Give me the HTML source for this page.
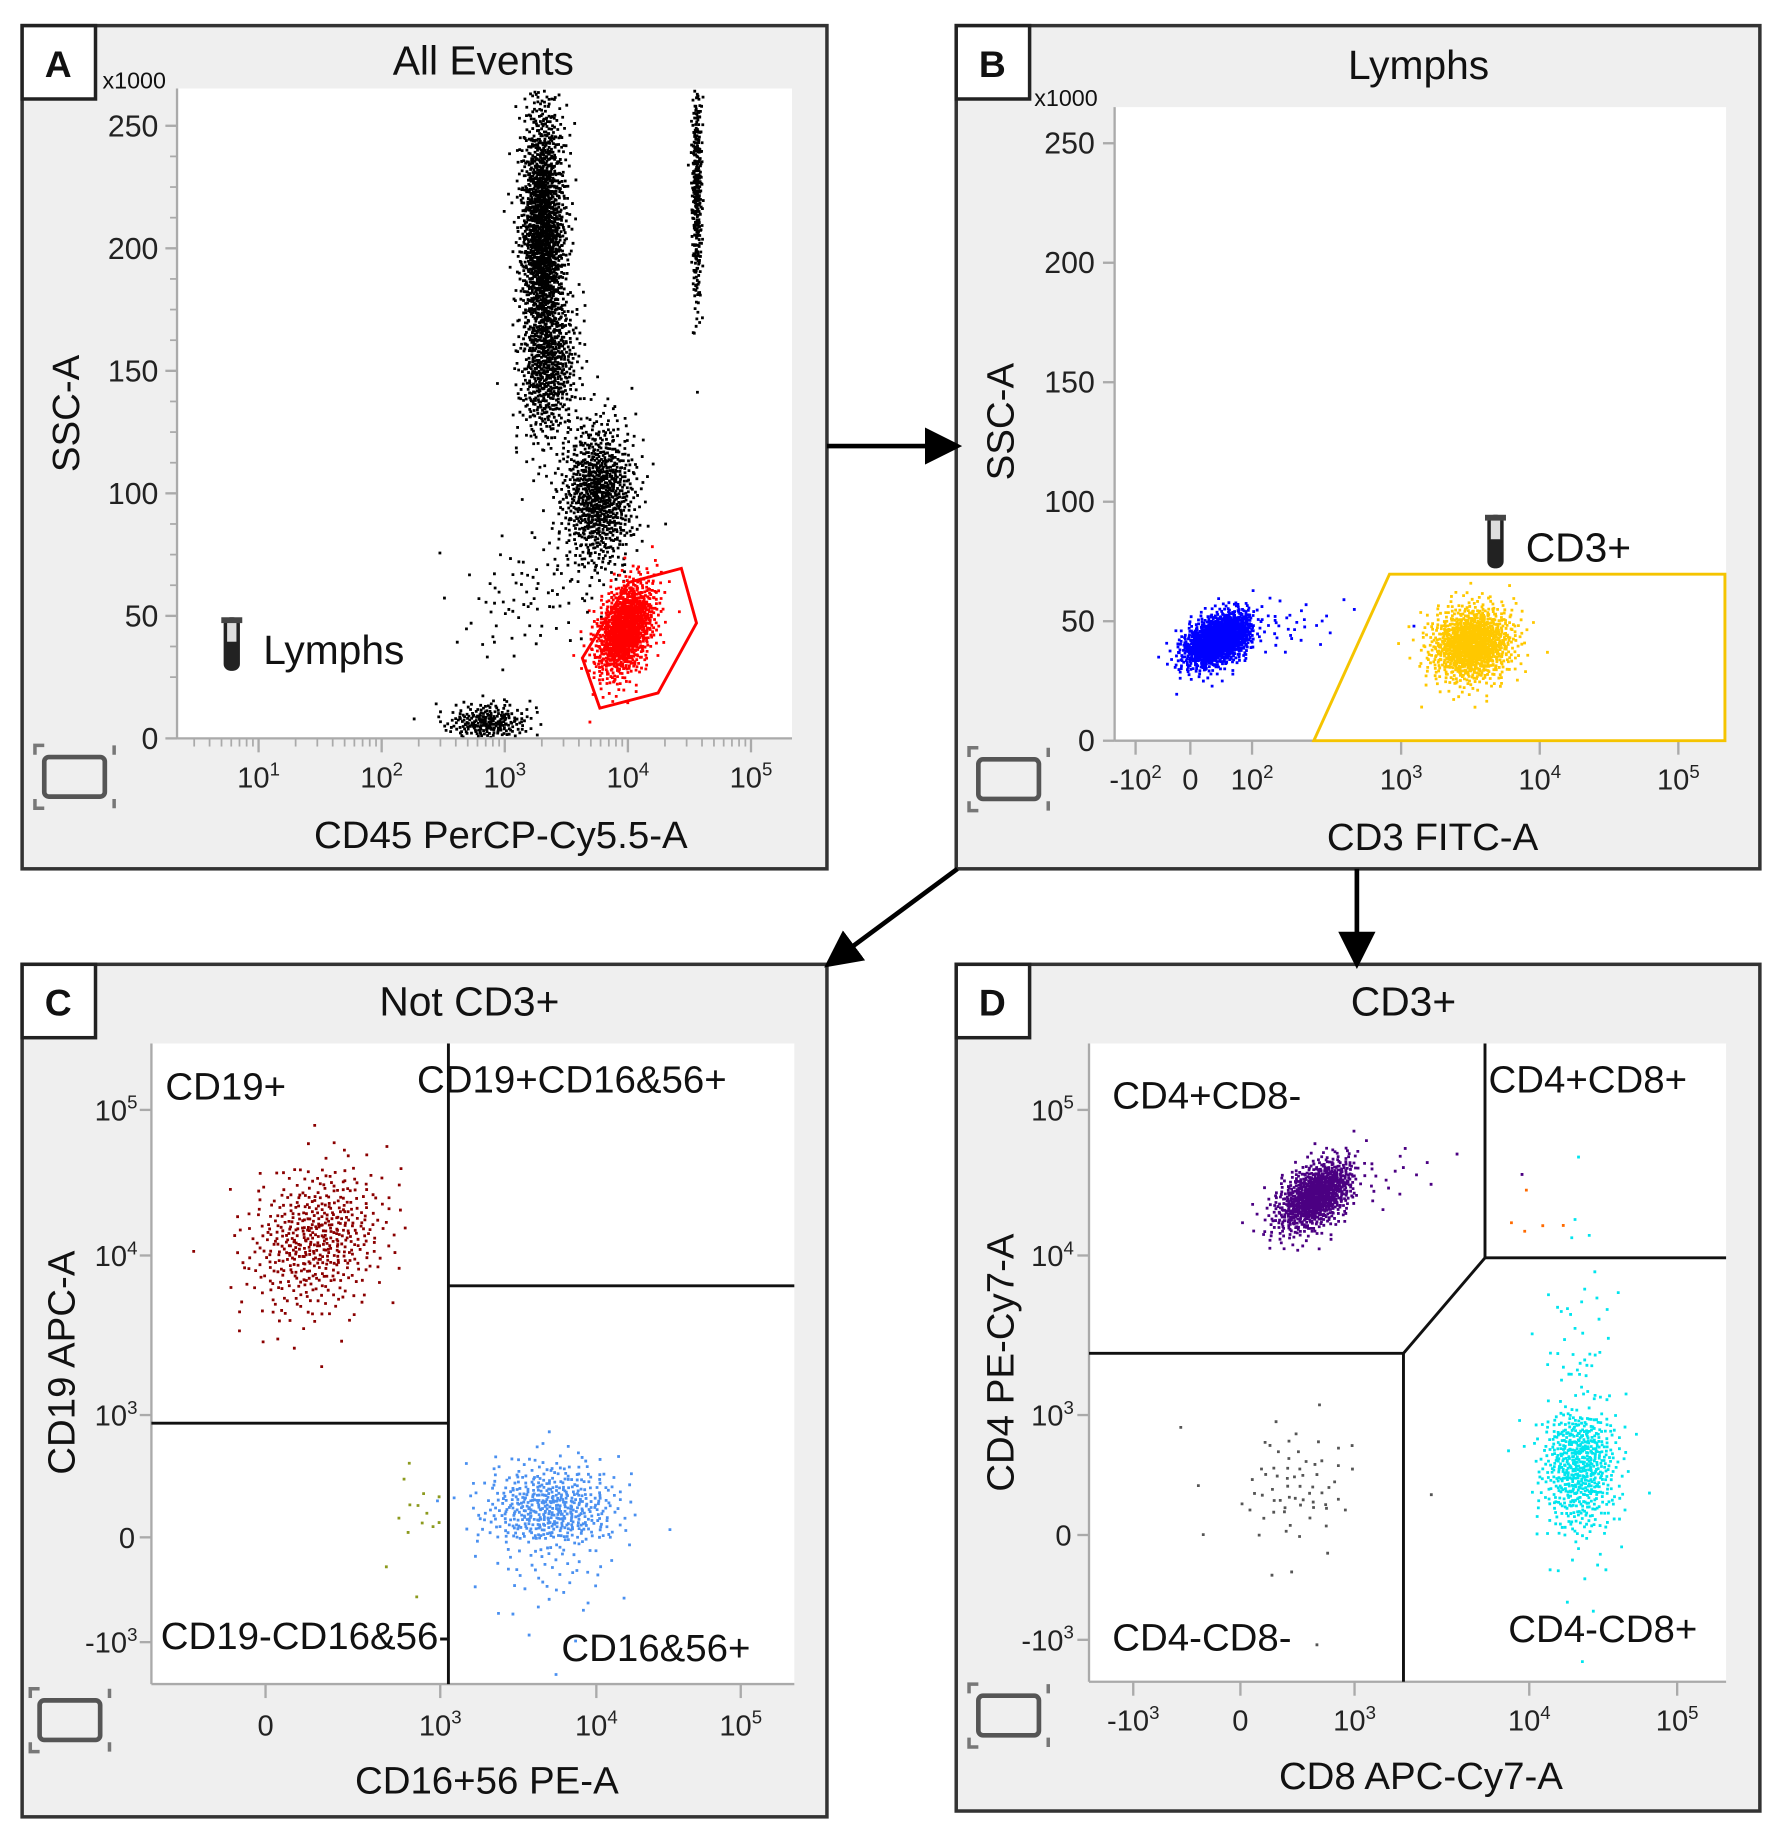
<!DOCTYPE html>
<html><head><meta charset="utf-8"><style>
html,body{margin:0;padding:0;background:#fff;}
svg{display:block;font-family:"Liberation Sans",sans-serif;}
</style></head><body>
<svg id="fig" width="1782" height="1825" viewBox="0 0 1530 1567" preserveAspectRatio="none" xmlns="http://www.w3.org/2000/svg">
<defs><marker id="ah" markerWidth="8" markerHeight="8" refX="6" refY="4" orient="auto"><path d="M0,0 L8,4 L0,8 z" fill="#000"/></marker></defs>
<g><rect x="19" y="22" width="691" height="724" fill="#efefef" stroke="#333" stroke-width="3"/><rect x="152" y="76" width="528" height="558" fill="#fff"/></g>
<g><rect x="821" y="22" width="690" height="724" fill="#efefef" stroke="#333" stroke-width="3"/><rect x="957" y="92" width="525" height="544" fill="#fff"/></g>
<g><rect x="19" y="828" width="691" height="732" fill="#efefef" stroke="#333" stroke-width="3"/><rect x="130" y="896" width="552" height="550" fill="#fff"/></g>
<g><rect x="821" y="828" width="690" height="727" fill="#efefef" stroke="#333" stroke-width="3"/><rect x="935" y="896" width="547" height="548" fill="#fff"/></g>
<g id="marks"></g>
<g id="overlay"></g>
</svg>
<script>
// ===== Panel A data (x: CD45 log value, y: SSC in thousands) =====
const aTicksX=[1,2,3,4,5];
const aTicksY=[0,50,100,150,200,250];
const aClX=[3.3,3.35,3.75,3.97,2.85,4.55,3.2];
const aClY=[205,150,100,45,7,225,60];
const aSdX=[0.09,0.12,0.15,0.12,0.17,0.02,0.3];
const aSdY=[28,14,15,10,4,25,15];
const aRho=[0,0.2,0,0.4,0,0,0.3];
const aN=[1800,500,900,1100,250,350,90];
const aCol=["#000","#000","#000","#ff0000","#000","#000","#000"];
// ===== Panel B data (x: decade units, y: SSC thousands) =====
const bTicksXv=[-2,0,2,3,4,5];
const bTicksXp=[975,1022,1075,1203,1322,1441];
const bClX=[0.9,3.5];
const bClY=[43,41];
const bSdX=[0.6,0.15];
const bSdY=[6,8];
const bRho=[0.45,0.1];
const bN=[1300,1100];
const bCol=["#0000ff","#ffc800"];
// ===== Panel C data (x,y: decade units, 0 = zero, -1 = -10^3) =====
const cTicksXv=[0,3,4,5]; const cTicksXp=[228,378,512,636];
const cTicksYv=[-1,0,3,4,5]; const cTicksYp=[1410,1320,1215,1078,953];
const cClX=[0.85,3.7,2.6];
const cClY=[4.12,0.7,0.6];
const cSdX=[0.6,0.22,0.25];
const cSdY=[0.25,0.6,0.6];
const cRho=[0.2,0,0];
const cN=[500,550,14];
const cCol=["#8b0000","#4a90f0","#8c9a1e"];
// ===== Panel D data =====
const dTicksXv=[-1,0,3,4,5]; const dTicksXp=[973,1065,1163,1313,1440];
const dTicksYv=[-1,0,3,4,5]; const dTicksYp=[1408,1318,1215,1078,953];
const dClX=[1.95,4.33,1.4,4.05];
const dClY=[4.42,1.8,1.2,4.25];
const dSdX=[0.55,0.13,0.8,0.12];
const dSdY=[0.13,0.9,0.8,0.1];
const dRho=[0.5,0,0,0];
const dN=[900,650,70,5];
const dCol=["#4b0082","#00e5ee","#555","#ff6a00"];

const NS="http://www.w3.org/2000/svg";
const marks=document.getElementById('marks');
const ov=document.getElementById('overlay');
function el(tag,attrs,parent){const e=document.createElementNS(NS,tag);for(const k in attrs)e.setAttribute(k,attrs[k]);(parent||ov).appendChild(e);return e;}
function interp(v,vs,ps){if(v<=vs[0])return ps[0]+(v-vs[0])*(ps[1]-ps[0])/(vs[1]-vs[0]);for(let i=1;i<vs.length;i++){if(v<=vs[i])return ps[i-1]+(v-vs[i-1])*(ps[i]-ps[i-1])/(vs[i]-vs[i-1]);}const n=vs.length;return ps[n-1]+(v-vs[n-1])*(ps[n-1]-ps[n-2])/(vs[n-1]-vs[n-2]);}
function halton(i,b){let f=1,r=0;while(i>0){f/=b;r+=f*(i%b);i=Math.floor(i/b);}return r;}
const axA={x:v=>222+(v-1)*105.7,y:v=>634-v*2.104};
const axB={x:v=>interp(v,bTicksXv,bTicksXp),y:v=>636-v*2.052};
const axC={x:v=>interp(v,cTicksXv,cTicksXp),y:v=>interp(v,cTicksYv,cTicksYp)};
const axD={x:v=>interp(v,dTicksXv,dTicksXp),y:v=>interp(v,dTicksYv,dTicksYp)};
function clusters(ax,X,Y,SX,SY,R,N,C,box,name){
  const g=el('g',{},marks);
  
  
  for(let c=0;c<X.length;c++){
    let d='';
    for(let i=1;i<=N[c];i++){
      const u1=Math.max(1e-4,halton(i+c*7,2)),u2=halton(i+c*7,3);
      const r=Math.sqrt(-2*Math.log(u1));
      const z1=r*Math.cos(2*Math.PI*u2),z2=r*Math.sin(2*Math.PI*u2);
      const vx=X[c]+SX[c]*z1, vy=Y[c]+SY[c]*(R[c]*z1+Math.sqrt(1-R[c]*R[c])*z2);
      const px=ax.x(vx),py=ax.y(vy);
      if(px<box[0]||px>box[2]||py<box[1]||py>box[3])continue;
      d+='M'+px.toFixed(1)+' '+py.toFixed(1)+'h2.4v2.4h-2.4z';
    }
    const p=el('path',{d:d,fill:C[c]},g);
    
    
  }
}
clusters(axA,aClX,aClY,aSdX,aSdY,aRho,aN,aCol,[152,76,678,632],'panel-a-events');
clusters(axB,bClX,bClY,bSdX,bSdY,bRho,bN,bCol,[957,92,1480,634],'panel-b-events');
clusters(axC,cClX,cClY,cSdX,cSdY,cRho,cN,cCol,[130,896,680,1444],'panel-c-events');
clusters(axD,dClX,dClY,dSdX,dSdY,dRho,dN,dCol,[935,896,1480,1442],'panel-d-events');

function txt(x,y,s,size,attrs,name){const t=el('text',Object.assign({x:x,y:y,'font-size':size,fill:'#111'},attrs||{}));t.textContent=s;return t;}
function supTick(x,y,base,exp,name,neg){const t=el('text',{x:x,y:y,'font-size':25,fill:'#222','text-anchor':'middle'});
 t.innerHTML=(neg?'-':'')+base+'<tspan dy="-10" font-size="16">'+exp+'</tspan>';}
function axisLines(x0,y0,x1,y1){el('line',{x1:x0,y1:y0,x2:x0,y2:y1,stroke:'#aaa','stroke-width':2});el('line',{x1:x0,y1:y1,x2:x1,y2:y1,stroke:'#aaa','stroke-width':2});}
function labelBox(x,y,s,name){const r=el('rect',{x:x,y:y,width:63,height:63,fill:'#fff',stroke:'#222','stroke-width':3});txt(x+31,y+44,s,32,{'text-anchor':'middle','font-weight':'bold'},name+'-text');}
function cornerIcon(x,y,name){const g=el('g',{});
 el('rect',{x:x+8,y:y+10,width:52,height:34,rx:4,fill:'none',stroke:'#555','stroke-width':4},g);
 el('path',{d:`M${x} ${y+8}v-8h8 M${x+68} ${y}h-0v8 M${x} ${y+46}v8h8 M${x+68} ${y+54}v-8`,stroke:'#777','stroke-width':3,fill:'none'},g);}
function tube(x,y,name){const g=el('g',{});
 el('rect',{x:x,y:y,width:14,height:46,rx:6,fill:'#222'},g);el('rect',{x:x+3,y:y+3,width:8,height:18,fill:'#ddd'},g);el('rect',{x:x-2,y:y,width:18,height:5,fill:'#444'},g);}

// Panel A
labelBox(19,22,'A','panel-a-label');
txt(415,64,'All Events',35,{'text-anchor':'middle'},'panel-a-title');
txt(88,76,'x1000',20,{},'panel-a-y-multiplier');
axisLines(152,76,680,634);
aTicksY.forEach(v=>{const y=axA.y(v);el('line',{x1:142,y1:y,x2:152,y2:y,stroke:'#aaa','stroke-width':2});txt(136,y+9,String(v),26,{'text-anchor':'end',fill:'#222'},'panel-a-y-tick-'+v);});
for(let v=25;v<260;v+=12.5){const y=axA.y(v);el('line',{x1:146,y1:y,x2:152,y2:y,stroke:'#aaa','stroke-width':1.5});}
aTicksX.forEach(v=>{const x=axA.x(v);el('line',{x1:x,y1:634,x2:x,y2:646,stroke:'#aaa','stroke-width':2});supTick(x,676,'10',String(v),'panel-a-x-tick-'+v);for(let k=2;k<10;k++){const xm=axA.x(v-1+Math.log10(k));if(xm>152)el('line',{x1:xm,y1:634,x2:xm,y2:641,stroke:'#aaa','stroke-width':1.5});}});
txt(430,728,'CD45 PerCP-Cy5.5-A',33,{'text-anchor':'middle'},'panel-a-x-axis-title');
txt(68,355,'SSC-A',33,{'text-anchor':'middle',transform:'rotate(-90 68 355)'},'panel-a-y-axis-title');
const gA=el('polygon',{points:'500,565 515,608 565,595 598,535 585,488 540,500',fill:'none',stroke:'#ff0000','stroke-width':2.5});
tube(192,530,'lymphs-gate-icon');txt(226,570,'Lymphs',35,{},'lymphs-gate-label');
cornerIcon(30,640,'panel-a-zoom-icon');

// Panel B
labelBox(821,22,'B','panel-b-label');
txt(1218,68,'Lymphs',35,{'text-anchor':'middle'},'panel-b-title');
txt(888,91,'x1000',20,{},'panel-b-y-multiplier');
axisLines(957,92,1482,636);
aTicksY.forEach(v=>{const y=axB.y(v);el('line',{x1:947,y1:y,x2:957,y2:y,stroke:'#aaa','stroke-width':2});txt(940,y+9,String(v),26,{'text-anchor':'end',fill:'#222'},'panel-b-y-tick-'+v);});
bTicksXv.forEach(v=>{const x=axB.x(v);el('line',{x1:x,y1:636,x2:x,y2:648,stroke:'#aaa','stroke-width':2});
 if(v===0)txt(x,678,'0',25,{'text-anchor':'middle',fill:'#222'},'panel-b-x-tick-0');else supTick(x,678,'10',String(Math.abs(v)),'panel-b-x-tick-'+v,v<0);});
txt(1230,730,'CD3 FITC-A',33,{'text-anchor':'middle'},'panel-b-x-axis-title');
txt(870,362,'SSC-A',33,{'text-anchor':'middle',transform:'rotate(-90 870 362)'},'panel-b-y-axis-title');
const gB=el('polygon',{points:'1128,636 1193,493 1481,493 1481,636',fill:'none',stroke:'#f5c400','stroke-width':2.5});
tube(1277,442,'cd3-gate-icon');txt(1310,482,'CD3+',35,{},'cd3-gate-label');
cornerIcon(832,642,'panel-b-zoom-icon');

[[710,383,818,383],[822,746,714,826],[1165,746,1165,824]].forEach((a,i)=>{const l=el('line',{x1:a[0],y1:a[1],x2:a[2],y2:a[3],stroke:'#000','stroke-width':4,'marker-end':'url(#ah)'});});

// Panel C
labelBox(19,828,'C','panel-c-label');
txt(403,872,'Not CD3+',35,{'text-anchor':'middle'},'panel-c-title');
axisLines(130,896,682,1446);
cTicksYv.forEach(v=>{const y=axC.y(v);el('line',{x1:120,y1:y,x2:130,y2:y,stroke:'#aaa','stroke-width':2});
 if(v===0)txt(116,y+9,'0',25,{'text-anchor':'end',fill:'#222'},'panel-c-y-tick-0');else{const t=el('text',{x:118,y:y+9,'font-size':25,fill:'#222','text-anchor':'end'});t.innerHTML=(v<0?'-10':'10')+'<tspan dy="-10" font-size="16">'+Math.abs(v===-1?3:v)+'</tspan>';}});
cTicksXv.forEach(v=>{const x=axC.x(v);el('line',{x1:x,y1:1446,x2:x,y2:1458,stroke:'#aaa','stroke-width':2});if(v===0)txt(x,1490,'0',25,{'text-anchor':'middle',fill:'#222'},'panel-c-x-tick-0');else supTick(x,1490,'10',String(v),'panel-c-x-tick-'+v);});
txt(418,1540,'CD16+56 PE-A',33,{'text-anchor':'middle'},'panel-c-x-axis-title');
txt(64,1170,'CD19 APC-A',33,{'text-anchor':'middle',transform:'rotate(-90 64 1170)'},'panel-c-y-axis-title');
[[385,896,385,1446],[130,1222,385,1222],[385,1104,682,1104]].forEach((a,i)=>{const l=el('line',{x1:a[0],y1:a[1],x2:a[2],y2:a[3],stroke:'#111','stroke-width':2.5});});
txt(142,944,'CD19+',33,{},'q-cd19pos');txt(358,938,'CD19+CD16&56+',33,{},'q-cd19pos-cd1656pos');
txt(138,1416,'CD19-CD16&56-',33,{},'q-cd19neg-cd1656neg');txt(482,1426,'CD16&56+',33,{},'q-cd1656pos');
cornerIcon(26,1450,'panel-c-zoom-icon');

// Panel D
labelBox(821,828,'D','panel-d-label');
txt(1205,872,'CD3+',35,{'text-anchor':'middle'},'panel-d-title');
axisLines(935,896,1482,1444);
dTicksYv.forEach(v=>{const y=axD.y(v);el('line',{x1:925,y1:y,x2:935,y2:y,stroke:'#aaa','stroke-width':2});
 if(v===0)txt(920,y+9,'0',25,{'text-anchor':'end',fill:'#222'},'panel-d-y-tick-0');else{const t=el('text',{x:922,y:y+9,'font-size':25,fill:'#222','text-anchor':'end'});t.innerHTML=(v<0?'-10':'10')+'<tspan dy="-10" font-size="16">'+Math.abs(v===-1?3:v)+'</tspan>';}});
dTicksXv.forEach(v=>{const x=axD.x(v);el('line',{x1:x,y1:1444,x2:x,y2:1456,stroke:'#aaa','stroke-width':2});if(v===0)txt(x,1486,'0',25,{'text-anchor':'middle',fill:'#222'},'panel-d-x-tick-0');else supTick(x,1486,'10',String(v===-1?3:v),'panel-d-x-tick-'+v,v<0);});
txt(1220,1536,'CD8 APC-Cy7-A',33,{'text-anchor':'middle'},'panel-d-x-axis-title');
txt(870,1170,'CD4 PE-Cy7-A',33,{'text-anchor':'middle',transform:'rotate(-90 870 1170)'},'panel-d-y-axis-title');
[[1275,896,1275,1080],[1275,1080,1482,1080],[1275,1080,1205,1162],[935,1162,1205,1162],[1205,1162,1205,1444]].forEach((a,i)=>{const l=el('line',{x1:a[0],y1:a[1],x2:a[2],y2:a[3],stroke:'#111','stroke-width':2.5});});
txt(955,952,'CD4+CD8-',33,{},'q-cd4pos-cd8neg');txt(1278,938,'CD4+CD8+',33,{},'q-cd4pos-cd8pos');
txt(955,1417,'CD4-CD8-',33,{},'q-cd4neg-cd8neg');txt(1295,1410,'CD4-CD8+',33,{},'q-cd4neg-cd8pos');
cornerIcon(832,1446,'panel-d-zoom-icon');
</script>
</body></html>
